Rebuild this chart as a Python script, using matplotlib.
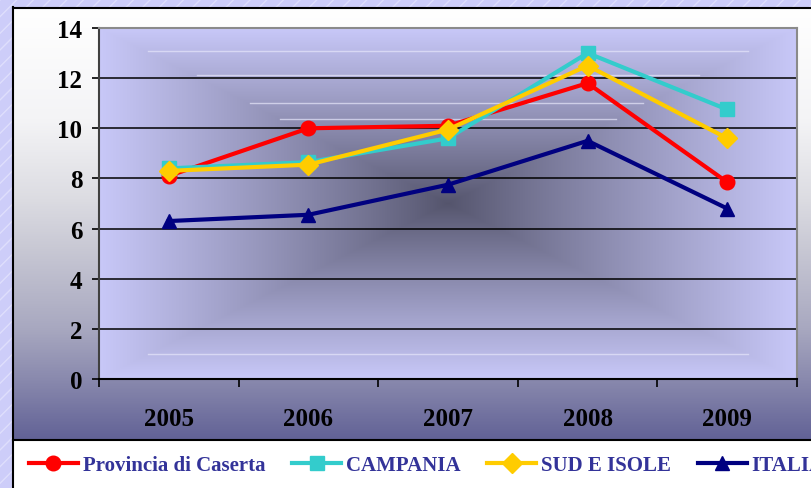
import matplotlib.pyplot as plt
import numpy as np
from matplotlib.patches import Rectangle

years = ['2005', '2006', '2007', '2008', '2009']
caserta = [8.1, 10.0, 10.1, 11.8, 7.85]
campania = [8.4, 8.65, 9.6, 13.0, 10.75]
sud_isole = [8.3, 8.55, 9.95, 12.5, 9.6]
italia = [6.3, 6.55, 7.75, 9.5, 6.8]
yticks = [0, 2, 4, 6, 8, 10, 12, 14]

W, H = 812, 489
fig = plt.figure(figsize=(W / 100, H / 100), dpi=100)
fig.patch.set_facecolor('#cdcdf9')

# sfondo: cornice, gradiente area grafico, box legenda
bg = fig.add_axes([0, 0, 1, 1])
bg.set_xlim(0, W)
bg.set_ylim(H, 0)
bg.axis('off')
bg.add_patch(Rectangle((0, 0), W, H, facecolor='#cdcdf9', edgecolor='#dedefc',
                       hatch='//', lw=0))
ys = np.linspace(8, 441, 200)
stops_y = [8, 120, 200, 250, 330, 380, 441]
stops_c = np.array([[255, 255, 255], [244, 244, 246], [220, 220, 226], [200, 200, 212],
                    [168, 168, 192], [138, 138, 174], [98, 98, 150]]) / 255
grad = np.stack([np.interp(ys, stops_y, stops_c[:, k]) for k in range(3)], axis=-1)
bg.imshow(grad[:, None, :], extent=(13, W, 441, 8), aspect='auto', zorder=1)
bg.add_patch(Rectangle((13, 441), W - 13, H - 441, facecolor='white', lw=0, zorder=2))
bg.plot([13, W], [8.5, 8.5], color='black', lw=1.5, zorder=3)
bg.plot([13.5, 13.5], [8, H], color='black', lw=1.5, zorder=3)
bg.plot([13, W], [441, 441], color='black', lw=1.5, zorder=3)

# area del grafico
x0, x1, ytop, ybot = 99, 797, 29, 380
ax = fig.add_axes([x0 / W, (H - ybot) / H, (x1 - x0) / W, (ybot - ytop) / H])
ax.set_xlim(-0.5, 4.5)
ax.set_ylim(0, 14)

# gradiente "dal centro" (rettangolare)
u = np.linspace(-1, 1, 400)
uu, vv = np.meshgrid(u, u)
t = np.maximum(np.abs(uu), np.abs(vv))
light = np.array([200, 200, 248]) / 255
dark = np.array([84, 84, 108]) / 255
img = dark + (light - dark) * (t ** 0.9)[..., None]
ax.imshow(img, extent=(-0.5, 4.5, 0, 14), aspect='auto', zorder=0)

# riflessi chiari
for fy, fa, fb in [(0.934, 0.07, 0.93), (0.866, 0.14, 0.86), (0.786, 0.216, 0.78),
                   (0.74, 0.26, 0.74), (0.07, 0.07, 0.93)]:
    ax.plot([fa, fb], [fy, fy], transform=ax.transAxes, color='#e6e6fa', lw=1,
            alpha=0.7, zorder=1)

for yv in yticks[1:-1]:
    ax.axhline(yv, color='black', lw=1.1, zorder=1.5)

x = np.arange(len(years))
ax.plot(x, caserta, color='#ff0000', lw=3, marker='o', ms=10.5, zorder=3,
        label='Provincia di Caserta')
ax.plot(x, campania, color='#33cccc', lw=3, marker='s', ms=9.5, zorder=3,
        label='CAMPANIA')
ax.plot(x, sud_isole, color='#ffcc00', lw=3, marker='D', ms=10.5, zorder=3,
        label='SUD E ISOLE')
ax.plot(x, italia, color='#000080', lw=3, marker='^', ms=9.5, zorder=3,
        label='ITALIA')

for s in ['top', 'right']:
    ax.spines[s].set_color('#8a8a8a')
    ax.spines[s].set_linewidth(1.5)
ax.spines['left'].set_color('#404040')
ax.spines['left'].set_linewidth(1.5)
ax.spines['bottom'].set_color('black')
ax.spines['bottom'].set_linewidth(1.5)

font = dict(family='Liberation Serif', weight='bold', size=18)
ax.set_xticks(np.arange(-0.5, 5, 1))
ax.set_xticklabels([])
ax.set_xticks(x, minor=True)
ax.set_xticklabels(years, minor=True, fontdict=font)
ax.tick_params(axis='x', which='major', length=6, width=1.2, direction='out')
ax.tick_params(axis='x', which='minor', length=0, pad=20)
ax.set_yticks(yticks)
ax.set_yticklabels([str(v) for v in yticks], fontdict=font)
ax.tick_params(axis='y', length=5, width=1.2, direction='out', pad=7)

leg = fig.legend(loc='center left', bbox_to_anchor=(29 / W, (H - 466) / H), ncol=4,
                 frameon=False, handlelength=2.35, handletextpad=0.22,
                 columnspacing=1.3, borderpad=0, borderaxespad=0,
                 prop=dict(family='Liberation Serif', weight='bold', size=15))
for txt in leg.get_texts():
    txt.set_color('#333399')

plt.savefig('out.png', dpi=100)
